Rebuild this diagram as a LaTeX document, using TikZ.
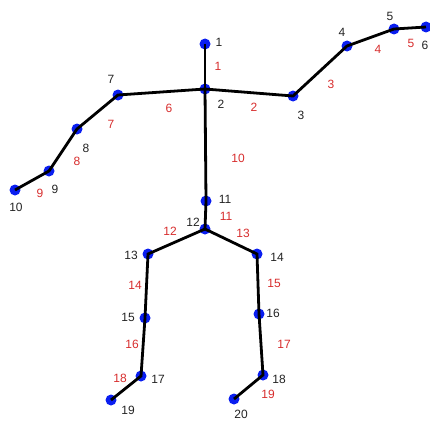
\documentclass[tikz,border=0pt]{standalone}
\usepackage{fontspec}
\setmainfont{Liberation Sans}
\usepackage{xcolor}
\usepackage{tikz}
\definecolor{jointblue}{RGB}{10,30,240}
\definecolor{bonered}{RGB}{215,45,45}
\definecolor{idgray}{RGB}{35,35,35}

\begin{document}
\begin{tikzpicture}[x=1pt, y=-1pt,
    joint/.style={circle, fill=jointblue, inner sep=0pt, minimum size=11pt},
    bone/.style={line width=2.8pt, black},
    jid/.style={font=\fontsize{12}{14}\selectfont, text=idgray, inner sep=0pt},
    bid/.style={font=\fontsize{12}{14}\selectfont, text=bonered, inner sep=0pt}
  ]
  \useasboundingbox (0,0) rectangle (430,420);

  % Joints
  \node[joint] (j1) at (205,44) {};
  \node[joint] (j2) at (205,89) {};
  \node[joint] (j3) at (293,96) {};
  \node[joint] (j4) at (347,46) {};
  \node[joint] (j5) at (394,29) {};
  \node[joint] (j6) at (426,27) {};
  \node[joint] (j7) at (118,95) {};
  \node[joint] (j8) at (77,129) {};
  \node[joint] (j9) at (49,171) {};
  \node[joint] (j10) at (15,190) {};
  \node[joint] (j11) at (206,201) {};
  \node[joint] (j12) at (205,229) {};
  \node[joint] (j13) at (148,254) {};
  \node[joint] (j14) at (257,254) {};
  \node[joint] (j15) at (145,318) {};
  \node[joint] (j16) at (259,314) {};
  \node[joint] (j17) at (141,376) {};
  \node[joint] (j18) at (263,375) {};
  \node[joint] (j19) at (111,400) {};
  \node[joint] (j20) at (234,399) {};

  % Bones
  \draw[bone] (j1.center) -- (j2.center);
  \draw[bone] (j2.center) -- (j3.center) -- (j4.center) -- (j5.center) -- (j6.center);
  \draw[bone] (j2.center) -- (j7.center) -- (j8.center) -- (j9.center) -- (j10.center);
  \draw[bone] (j2.center) -- (j11.center) -- (j12.center);
  \draw[bone] (j12.center) -- (j13.center) -- (j15.center) -- (j17.center) -- (j19.center);
  \draw[bone] (j12.center) -- (j14.center) -- (j16.center) -- (j18.center) -- (j20.center);

  % Joint numbers
  \node[jid] (n1) at (219,42) {1};
  \node[jid] (n2) at (221,104) {2};
  \node[jid] (n3) at (301,115) {3};
  \node[jid] (n4) at (342,32) {4};
  \node[jid] (n5) at (390,16) {5};
  \node[jid] (n6) at (425,45) {6};
  \node[jid] (n7) at (111,79) {7};
  \node[jid] (n8) at (86,148) {8};
  \node[jid] (n9) at (55,189) {9};
  \node[jid] (n10) at (16,207) {10};
  \node[jid] (n11) at (225,199) {11};
  \node[jid] (n12) at (193,222) {12};
  \node[jid] (n13) at (131,255) {13};
  \node[jid] (n14) at (277,257) {14};
  \node[jid] (n15) at (128,317) {15};
  \node[jid] (n16) at (273,313) {16};
  \node[jid] (n17) at (158,379) {17};
  \node[jid] (n18) at (279,379) {18};
  \node[jid] (n19) at (128,410) {19};
  \node[jid] (n20) at (241,414) {20};

  % Bone numbers
  \node[bid] (b1) at (218,66) {1};
  \node[bid] (b2) at (254,107) {2};
  \node[bid] (b3) at (331,84) {3};
  \node[bid] (b4) at (378,49) {4};
  \node[bid] (b5) at (411,43) {5};
  \node[bid] (b6) at (169,108) {6};
  \node[bid] (b7) at (111,124) {7};
  \node[bid] (b8) at (77,161) {8};
  \node[bid] (b9) at (40,193) {9};
  \node[bid] (b10) at (238,158) {10};
  \node[bid] (b11) at (226,216) {11};
  \node[bid] (b12) at (170,231) {12};
  \node[bid] (b13) at (243,233) {13};
  \node[bid] (b14) at (135,285) {14};
  \node[bid] (b15) at (274,283) {15};
  \node[bid] (b16) at (132,344) {16};
  \node[bid] (b17) at (284,344) {17};
  \node[bid] (b18) at (120,378) {18};
  \node[bid] (b19) at (268,394) {19};
\end{tikzpicture}
\end{document}
